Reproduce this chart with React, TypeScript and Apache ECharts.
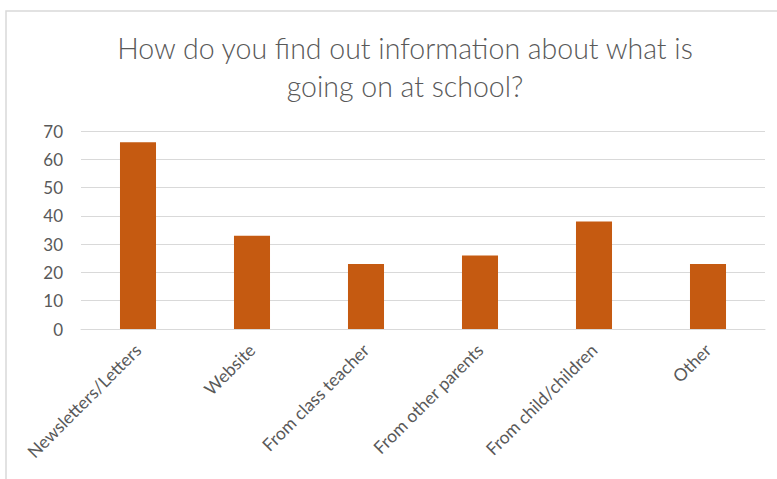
import React, { useEffect, useRef } from "react";
import * as echarts from "echarts";

const categories = [
  "Newsletters/Letters",
  "Website",
  "From class teacher",
  "From other parents",
  "From child/children",
  "Other",
];
const values = [66, 33, 23, 26, 38, 23];
const titleText = "How do you find out information about what is\ngoing on at school?";

export default function App() {
  const ref = useRef<HTMLDivElement>(null);
  useEffect(() => {
    if (!ref.current) return;
    const chart = echarts.init(ref.current, null, { renderer: "svg" });
    const font = "Lato";
    chart.setOption({
      animation: false,
      backgroundColor: "#ffffff",
      graphic: [
        {
          type: "rect",
          shape: { x: 6, y: 11, width: 800, height: 500 },
          style: { fill: "none", stroke: "#d9d9d9", lineWidth: 1.5 },
          silent: true,
        },
      ],
      title: {
        text: titleText,
        left: 400,
        textAlign: "center",
        top: 24,
        textStyle: {
          fontFamily: font,
          fontSize: 28.5,
          fontWeight: 300,
          color: "#595959",
          lineHeight: 38,
        },
      },
      grid: { left: 81, right: 12, top: 131, bottom: 150, containLabel: false },
      xAxis: {
        type: "category",
        data: categories,
        axisLine: { lineStyle: { color: "#d9d9d9", width: 1 } },
        axisTick: { show: false },
        axisLabel: {
          rotate: 45,
          interval: 0,
          margin: 18,
          fontFamily: font,
          fontSize: 17.5,
          color: "#595959",
        },
      },
      yAxis: {
        type: "value",
        min: 0,
        max: 70,
        interval: 10,
        axisLine: { show: false },
        axisTick: { show: false },
        splitLine: { lineStyle: { color: "#d9d9d9", width: 1 } },
        axisLabel: {
          margin: 18,
          fontFamily: font,
          fontSize: 17,
          color: "#595959",
        },
      },
      series: [
        {
          type: "bar",
          data: values,
          barWidth: "31.6%",
          itemStyle: { color: "#c55a11" },
        },
      ],
    });
    return () => chart.dispose();
  }, []);
  return (
    <div
      ref={ref}
      style={{ position: "fixed", left: 0, top: 0, width: 777, height: 479 }}
    />
  );
}
